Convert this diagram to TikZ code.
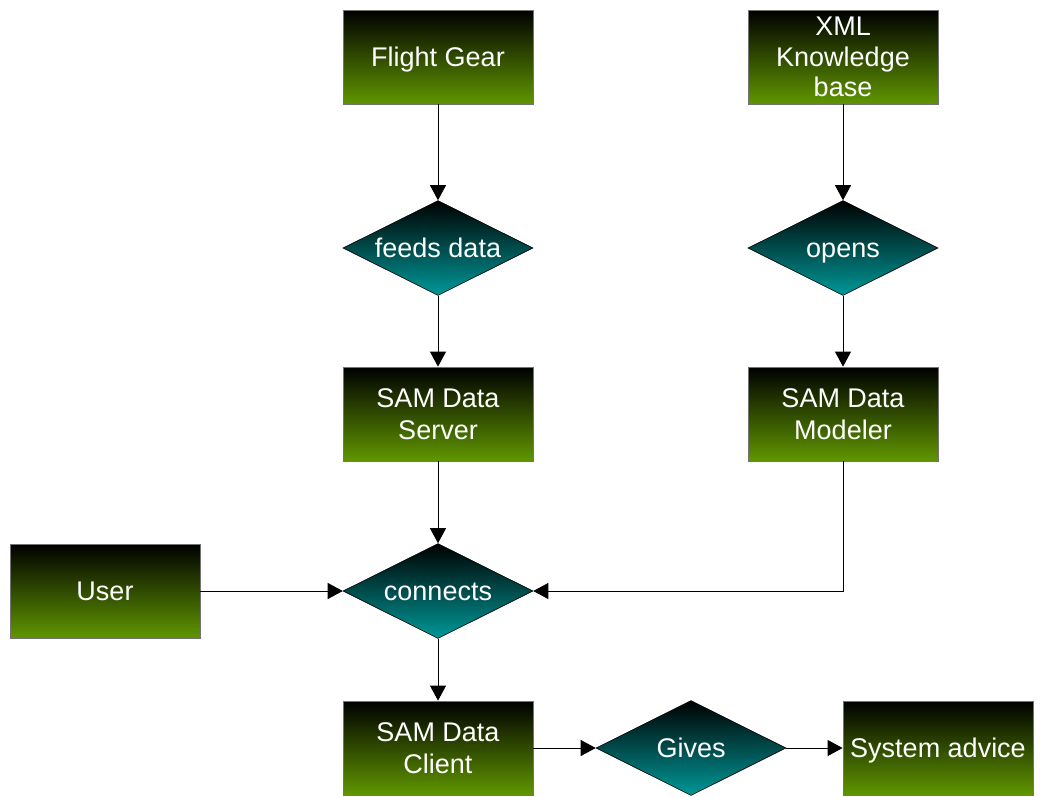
\documentclass[tikz,border=0pt]{standalone}
\usepackage{fontspec}
\setmainfont{Liberation Sans}
\usetikzlibrary{shapes.geometric,arrows.meta}
\definecolor{leaf}{RGB}{96,150,0}
\definecolor{sea}{RGB}{0,152,152}
\begin{document}
\begin{tikzpicture}[x=1pt,y=-1pt,
  box/.style={rectangle, minimum width=190pt, minimum height=94pt, inner sep=0pt,
    top color=black, bottom color=leaf, draw=black!55, line width=0.8pt,
    text=white, font=\fontsize{27}{32}\selectfont, align=center},
  decision/.style={diamond, aspect=2, minimum width=190pt, minimum height=95pt, inner sep=0pt,
    top color=black, bottom color=sea, draw=black, line width=0.6pt,
    text=white, font=\fontsize{27}{32}\selectfont, align=center},
  oneline/.style={text height=19.5pt, text depth=0pt},
  link/.style={draw=black, line width=0.8pt, -{Triangle[length=15pt,width=16pt]}}]
\useasboundingbox (0,0) rectangle (1040,796);

% source boxes
\node[box, oneline] (fg) at (438,57) {Flight Gear};
\node[box, font=\fontsize{27}{30.5}\selectfont] (xml) at (843,57) {XML\\Knowledge\\base};

% first-level decisions
\node[decision, oneline] (feeds) at (438,248) {feeds data};
\node[decision, oneline] (opens) at (843,248) {opens};

% SAM components
\node[box] (server)  at (438,414) {SAM Data\\Server};
\node[box] (modeler) at (843,414) {SAM Data\\Modeler};

\node[box, oneline] (user) at (105,591) {User};
\node[decision, oneline] (conn) at (438,591) {connects};

\node[box] (client) at (438,748) {SAM Data\\Client};
\node[decision, oneline] (gives) at (691,748) {Gives};
\node[box, oneline] (advice) at (938,748) {System advice};

% connectors
\draw[link] (fg) -- (feeds);
\draw[link] (xml) -- (opens);
\draw[link] (feeds) -- (server);
\draw[link] (opens) -- (modeler);
\draw[link] (server) -- (conn);
\draw[link] (modeler.south) |- (conn.east);
\draw[link] (user) -- (conn.west);
\draw[link] (conn) -- (client);
\draw[link] (client) -- (gives.west);
\draw[link] (gives.east) -- (advice);
\end{tikzpicture}
\end{document}
